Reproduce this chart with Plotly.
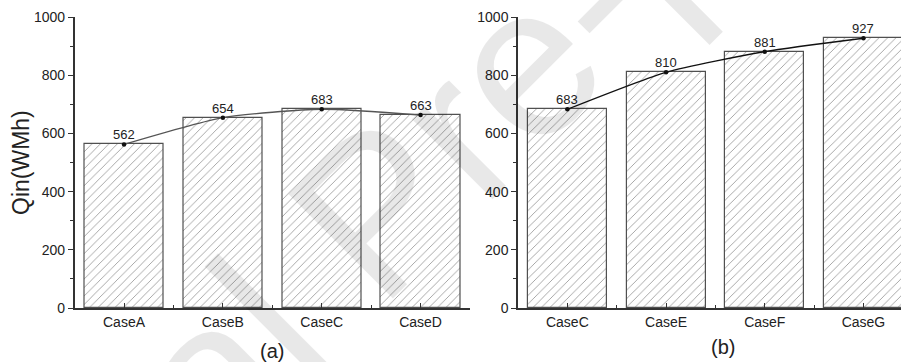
import plotly.graph_objects as go

# ---- data ----
cases_a = ["CaseA", "CaseB", "CaseC", "CaseD"]
qin_a = [562, 654, 683, 663]
cases_b = ["CaseC", "CaseE", "CaseF", "CaseG"]
qin_b = [683, 810, 881, 927]
y_ticks = [0, 200, 400, 600, 800, 1000]
panel_labels = ["(a)", "(b)"]
y_title = "Qin(WMh)"
watermark = "Journal Pre-proof"

W, H = 901, 362
FONT = "Arial, Liberation Sans, sans-serif"

def px(x):
    return x / W

def py(y):
    return 1 - y / H

fig = go.Figure()
value_notes = []

panels = [
    (cases_a, qin_a, "x", "y", "#555555"),
    (cases_b, qin_b, "x2", "y2", "#111111"),
]
for cats, vals, xa, ya, lc in panels:
    xs = list(range(len(cats)))
    fig.add_trace(go.Bar(
        x=xs, y=vals, width=0.8, xaxis=xa, yaxis=ya,
        marker=dict(
            color="white",
            line=dict(color="#505050", width=1.2),
            pattern=dict(shape="/", size=6, solidity=0.15,
                         fgcolor="#a0a0a0", bgcolor="white"),
        ),
        showlegend=False, hoverinfo="skip",
    ))
    fig.add_trace(go.Scatter(
        x=xs, y=vals, xaxis=xa, yaxis=ya,
        mode="lines+markers",
        line=dict(color=lc, width=1.3, shape="spline", smoothing=0.6),
        marker=dict(color="#111111", size=4.5),
        cliponaxis=False, showlegend=False, hoverinfo="skip",
    ))
    for xv, v in zip(xs, vals):
        value_notes.append(dict(
            x=xv, y=v, xref=xa, yref=ya, text=str(v), showarrow=False,
            xanchor="center", yanchor="bottom", yshift=0,
            font=dict(family=FONT, size=13, color="#222222"),
        ))

ydom = [py(308), py(17)]

def xaxis(cats, dom, rng, anchor):
    return dict(
        domain=dom, range=rng, anchor=anchor,
        tickvals=list(range(len(cats))), ticktext=cats,
        ticks="inside", ticklen=5, tickwidth=1.2, tickcolor="#333333",
        minor=dict(tickvals=[i + 0.5 for i in range(len(cats) - 1)],
                   ticks="inside", ticklen=3, tickwidth=1.2, tickcolor="#333333"),
        showline=True, linecolor="#333333", linewidth=1.5,
        showgrid=False, zeroline=False,
        tickfont=dict(family=FONT, size=14, color="#222222"),
        ticklabelstandoff=0,
        automargin=False, fixedrange=True,
    )

def yaxis(anchor):
    return dict(
        domain=ydom, range=[0, 1000], anchor=anchor,
        tickvals=y_ticks, ticks="outside", ticklen=5, tickwidth=1.2, tickcolor="#333333",
        minor=dict(dtick=100, tick0=0, ticks="outside", ticklen=3, tickwidth=1.2,
                   tickcolor="#333333"),
        showline=True, linecolor="#333333", linewidth=1.5,
        showgrid=False, zeroline=False,
        tickfont=dict(family=FONT, size=14, color="#222222"),
        automargin=False, fixedrange=True,
    )

fig.update_layout(
    width=W, height=H,
    margin=dict(l=0, r=0, t=0, b=0, pad=0),
    paper_bgcolor="white", plot_bgcolor="white",
    template="none",
    bargap=0,
    xaxis=xaxis(cases_a, [px(74.6), px(470)], [-0.5, 3.5], "y"),
    yaxis=yaxis("x"),
    xaxis2=xaxis(cases_b, [px(518), 1.0], [-0.5, -0.5 + (W - 518) / 98.7], "y2"),
    yaxis2=yaxis("x2"),
    annotations=value_notes + [
        dict(text=y_title, xref="paper", yref="paper", x=px(21), y=py(163),
             xanchor="center", yanchor="middle",
             textangle=-90, showarrow=False,
             font=dict(family=FONT, size=23, color="#222222")),
        dict(text=panel_labels[0], xref="paper", yref="paper", x=px(272), y=py(351),
             xanchor="center", yanchor="middle",
             showarrow=False, font=dict(family=FONT, size=20, color="#222222")),
        dict(text=panel_labels[1], xref="paper", yref="paper", x=px(723), y=py(347),
             xanchor="center", yanchor="middle",
             showarrow=False, font=dict(family=FONT, size=20, color="#222222")),
        dict(text=watermark, xref="paper", yref="paper", x=px(375), y=py(212),
             xanchor="center", yanchor="middle",
             textangle=-45, showarrow=False,
             font=dict(family=FONT, size=215, color="rgba(0,0,0,0.09)")),
    ],
)

fig.write_html("out.html", config={"displayModeBar": False},
               post_script="document.body.style.margin='0';document.body.style.padding='0';")
